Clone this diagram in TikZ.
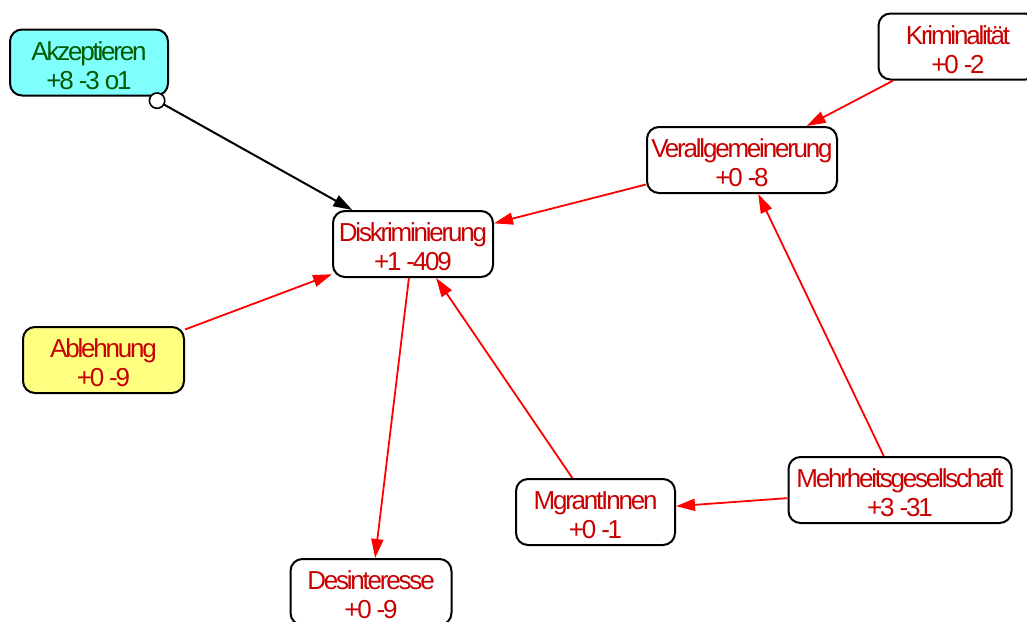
\documentclass[tikz,border=0pt]{standalone}
\usepackage{fontspec}
\setmainfont[LetterSpace=-8.5]{Liberation Sans}
\usetikzlibrary{arrows.meta}
\definecolor{txtred}{RGB}{200,0,0}
\definecolor{txtgreen}{RGB}{0,90,0}
\definecolor{cyanfill}{RGB}{128,255,255}
\definecolor{yellowfill}{RGB}{255,255,128}
\definecolor{edgered}{RGB}{255,0,0}
\tikzset{
  concept/.style={draw=black, line width=2pt, rounded corners=12pt, fill=white,
    minimum height=66pt, inner xsep=0pt, inner ysep=0pt, align=center,
    text height=58pt, text depth=4.6pt,
    text=txtred, font=\fontsize{26}{29}\selectfont},
  neglink/.style={draw=edgered, line width=1.8pt, -{Triangle[length=19pt,width=12pt]}},
  poslink/.style={draw=black, line width=2pt,
    {Circle[open,length=17pt,width=17pt,fill=white,line width=1.6pt]}-{Triangle[length=19pt,width=12pt]}}
}
\begin{document}
\begin{tikzpicture}[x=1pt,y=-1pt]
\useasboundingbox (0,0) rectangle (1027,621);
\fill[white] (0,0) rectangle (1027,621);

\node[concept, fill=cyanfill, text=txtgreen, minimum width=158pt] (akz) at (89,62.5) {Akzeptieren\\+8 -3 o1};
\node[concept, minimum width=159pt] (krim) at (958,46.5) {Kriminalität\\+0 -2};
\node[concept, minimum width=190pt] (verall) at (742,160) {Verallgemeinerung\\+0 -8};
\node[concept, minimum width=160pt] (disk) at (413,244) {Diskriminierung\\+1 -409};
\node[concept, fill=yellowfill, minimum width=161pt] (abl) at (103.5,360) {Ablehnung\\+0 -9};
\node[concept, minimum width=159pt] (migr) at (595.5,512) {MgrantInnen\\+0 -1};
\node[concept, minimum width=223pt] (mehr) at (900,490) {Mehrheitsgesellschaft\\+3 -31};
\node[concept, minimum width=161pt] (desint) at (371,592) {Desinteresse\\+0 -9};

\draw[poslink] (akz) -- (disk);
\draw[neglink] (krim) -- (verall);
\draw[neglink] (verall) -- (disk);
\draw[neglink] (abl) -- (disk);
\draw[neglink] (disk) -- (desint);
\draw[neglink] (migr) -- (disk);
\draw[neglink] (mehr) -- (verall);
\draw[neglink] (mehr) -- (migr);
\end{tikzpicture}
\end{document}
